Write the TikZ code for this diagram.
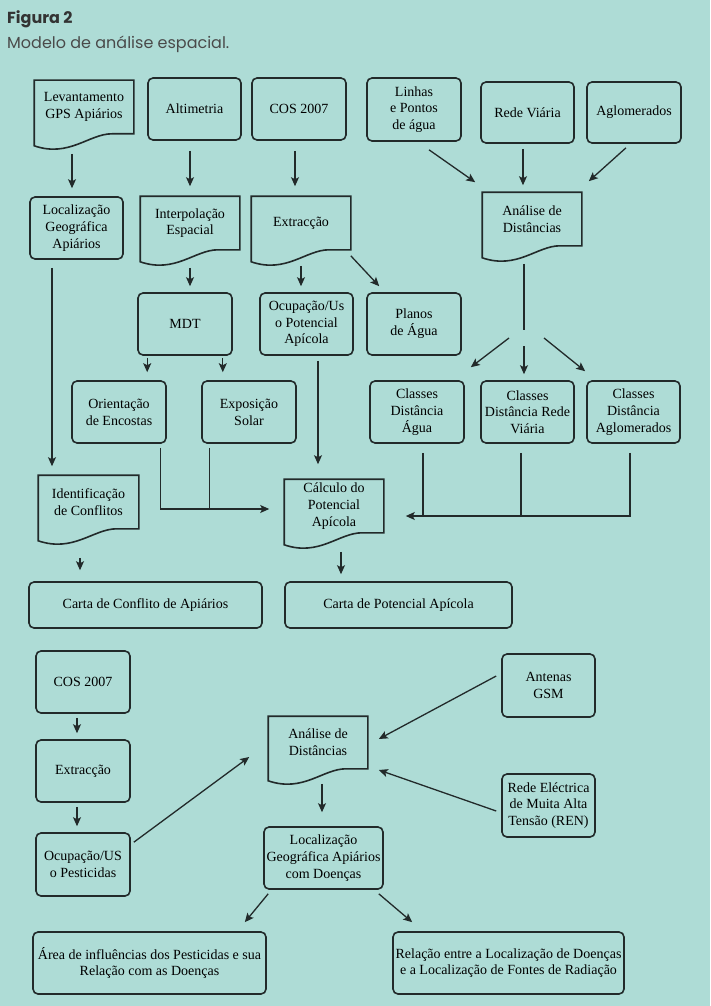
\documentclass[tikz,border=0pt]{standalone}
\usepackage{fontspec}
\setmainfont{Liberation Serif}
\newfontfamily\titlefont{Poppins}
\usetikzlibrary{calc,arrows.meta}
\definecolor{fundo}{HTML}{AEDCD6}
\definecolor{traco}{HTML}{222A2A}
\definecolor{titulo}{HTML}{333333}
\definecolor{subtitulo}{HTML}{4A4A4A}

\begin{document}
\begin{tikzpicture}[x=1pt,y=-1pt,
		caixa/.style={draw=traco,line width=1.6pt,rounded corners=5pt,align=center,inner sep=0pt,font=\fontsize{14}{16.7}\selectfont},
		docbox/.style={caixa,draw=none},
		seta/.style={draw=traco,line width=1.3pt,-{Stealth[length=9pt,width=8pt,inset=2pt]}},
		linha/.style={draw=traco,line width=1.3pt}]
		\fill [fundo] (0,0) rectangle (710,1006);
		\useasboundingbox (0,0) rectangle (710,1006);
		%
		\node [anchor=base west,inner sep=0pt,text=titulo,font=\titlefont\bfseries\fontsize{16}{18}\selectfont] (fig) at (7,24) {Figura 2};
		\node [anchor=base west,inner sep=0pt,text=subtitulo,font=\titlefont\fontsize{16}{18}\selectfont] (sub) at (7,49) {Modelo de análise espacial.};
		%
		\begin{scope}
			\node [docbox,minimum width=98pt,minimum height=52pt] (levgps) at (84,107) {Levantamento\\GPS Apiários};
			\node [caixa,minimum width=93pt,minimum height=62pt] (altim) at (194.5,109) {Altimetria};
			\node [caixa,minimum width=94pt,minimum height=62pt] (cos) at (299,109) {COS 2007};
			\node [caixa,minimum width=94pt,minimum height=63pt] (linhas) at (414,109.5) {Linhas\\e Pontos\\de água};
			\node [caixa,minimum width=93pt,minimum height=61pt] (rede) at (527.5,112.5) {Rede Viária};
			\node [caixa,minimum width=94pt,minimum height=61pt] (aglo) at (634,112.5) {Aglomerados};
			\node [docbox,minimum width=98pt,minimum height=52pt] (analise) at (532,219) {Análise de\\Distâncias};
			%
			\node [caixa,minimum width=93pt,minimum height=62pt] (locgeo) at (76.5,228) {Localização\\Geográfica\\Apiários};
			\node [docbox,minimum width=98pt,minimum height=52pt] (interp) at (190,223) {Interpolação\\Espacial};
			\node [docbox,minimum width=98pt,minimum height=52pt] (extr) at (301,223) {Extracção};
			\node [caixa,minimum width=94pt,minimum height=62pt] (mdt) at (185,324) {MDT};
			\node [caixa,minimum width=93pt,minimum height=62pt] (ocuppot) at (306.5,324) {Ocupação/Us\\o Potencial\\Apícola};
			\node [caixa,minimum width=94pt,minimum height=62pt] (planos) at (414,324) {Planos\\de Água};
			%
			\node [caixa,minimum width=94pt,minimum height=62pt] (orient) at (119,412) {Orientação\\de Encostas};
			\node [caixa,minimum width=94pt,minimum height=62pt] (expos) at (249,412) {Exposição\\Solar};
			\node [caixa,minimum width=94pt,minimum height=62pt] (cdagua) at (417,412) {Classes\\Distância\\Água};
			\node [caixa,minimum width=93pt,minimum height=62pt] (cdrede) at (527.5,412) {Classes\\Distância Rede\\Viária};
			\node [caixa,minimum width=93pt,minimum height=62pt] (cdaglo) at (633.5,412) {Classes\\Distância\\Aglomerados};
			%
			\node [docbox,minimum width=99pt,minimum height=52pt] (ident) at (88.5,502) {Identificação\\de Conflitos};
			\node [docbox,minimum width=98pt,minimum height=52pt] (calc) at (334,506) {Cálculo do\\Potencial\\Apícola};
			\node [caixa,minimum width=233pt,minimum height=46pt] (cartaconf) at (145.5,605) {Carta de Conflito de Apiários};
			\node [caixa,minimum width=227pt,minimum height=46pt] (cartapot) at (398.5,605) {Carta de Potencial Apícola};
		\end{scope}
		%
		\begin{scope}
			\node [caixa,minimum width=94pt,minimum height=62pt] (cos2) at (83,682) {COS 2007};
			\node [caixa,minimum width=94pt,minimum height=62pt] (extr2) at (83,771) {Extracção};
			\node [caixa,minimum width=94pt,minimum height=63pt] (ocuppest) at (83,864.5) {Ocupação/US\\o Pesticidas};
			\node [docbox,minimum width=98pt,minimum height=51pt] (analise2) at (318,742.5) {Análise de\\Distâncias};
			\node [caixa,minimum width=93pt,minimum height=63pt] (antenas) at (548.5,685.5) {Antenas\\GSM};
			\node [caixa,minimum width=93pt,minimum height=63pt] (ren) at (548.5,805.5) {Rede Eléctrica\\de Muita Alta\\Tensão (REN)};
			\node [caixa,minimum width=119pt,minimum height=62pt] (locdoen) at (323.5,858) {Localização\\Geográfica Apiários\\com Doenças};
			\node [caixa,minimum width=233pt,minimum height=62pt] (area) at (149.5,963) {Área de influências dos Pesticidas e sua\\Relação com as Doenças};
			\node [caixa,minimum width=231pt,minimum height=62pt] (relacao) at (508.5,963) {Relação entre a Localização de Doenças\\e a Localização de Fontes de Radiação};
		\end{scope}
		%
		\foreach \n in {levgps,analise,interp,extr,ident,calc,analise2}
			\draw [traco,line width=1.6pt] (\n.north west) -- (\n.north east) -- (\n.south east) -- ($(\n.south west)!0.78!(\n.south east)$) .. controls ($(\n.south west)!0.55!(\n.south east)$) and ($(\n.south west)!0.35!(\n.south east)+(0pt,-24pt)$) .. ([yshift=-12pt]\n.south west) -- cycle;
		%
		\coordinate (split) at (524,330);
		\draw [seta,shorten <=20pt,shorten >=8pt] ([xshift=-4.5pt]locgeo.north |- levgps.south) -- ([xshift=-4.5pt]locgeo.north);
		\draw [seta,shorten <=10pt,shorten >=10pt] (altim.south -| interp.north) -- (interp.north);
		\draw [seta,shorten <=10pt,shorten >=10pt] ([xshift=-4pt]cos.south) -- ([xshift=-4pt]cos.south |- extr.north);
		\draw [seta] ([shift={(15pt,-8pt)}]linhas.south) -- ([shift={(-7pt,10pt)}]analise.north west);
		\draw [seta,shorten >=7pt] ([shift={(-4.5pt,-5pt)}]rede.south) -- ([xshift=-4.5pt]rede.south |- analise.north);
		\draw [seta] ([shift={(-8pt,-4pt)}]aglo.south) -- ([shift={(7pt,11pt)}]analise.north east);
		\draw [linha,shorten <=18pt] (analise.south -| split) -- (split);
		\draw [seta] ([shift={(-15pt,-8pt)}]split) -- ([shift={(6pt,13pt)}]cdagua.north east);
		\draw [seta,shorten >=6pt] ([yshift=-16pt]split) -- (split |- cdrede.north);
		\draw [seta] ([shift={(20pt,-8pt)}]split) -- ([shift={(-1pt,9pt)}]cdaglo.north west);
		%
		\draw [seta,shorten <=18pt,shorten >=6pt] (interp.south) -- (interp.south |- mdt.north);
		\draw [seta,shorten <=16pt,shorten >=6pt] (extr.south) -- (extr.south |- ocuppot.north);
		\draw [seta] ([yshift=-6pt]extr.south east) -- ([shift={(13pt,6pt)}]planos.north west);
		\draw [seta,shorten >=8pt] ([shift={(10pt,-2pt)}]mdt.south west) -- ([xshift=10pt]mdt.south west |- orient.north);
		\draw [seta,shorten >=8pt] ([shift={(-10pt,-2pt)}]mdt.south east) -- ([xshift=-10pt]mdt.south east |- expos.north);
		\draw [seta,shorten >=15pt] ([shift={(11.5pt,-5pt)}]ocuppot.south) -- ([xshift=11.5pt]ocuppot.south |- calc.north);
		\draw [seta,shorten >=9pt] ([shift={(-24.5pt,-8pt)}]locgeo.south) -- ([xshift=-24.5pt]locgeo.south |- ident.north);
		\draw [seta,shorten >=15pt] ([shift={(-6pt,-4pt)}]orient.south east) |- ([yshift=-3pt]calc.west);
		\draw [linha] ([shift={(8pt,-4pt)}]expos.south west) -- ([xshift=8pt,yshift=-3pt]expos.south west |- calc.west);
		\draw [linha] ([shift={(6pt,-9pt)}]cdagua.south) -- ([xshift=6pt,yshift=-10pt]cdagua.south |- calc.east);
		\draw [linha] ([shift={(-6.5pt,-9pt)}]cdrede.south) -- ([xshift=-6.5pt,yshift=-10pt]cdrede.south |- calc.east);
		\draw [seta,shorten >=22pt] ([shift={(-3.5pt,-9pt)}]cdaglo.south) |- ([yshift=-10pt]calc.east);
		\draw [seta,shorten >=11pt] ([shift={(-8.5pt,-29pt)}]ident.south) -- ([xshift=-8.5pt]ident.south |- cartaconf.north);
		\draw [seta,shorten >=7pt] ([shift={(7pt,-19pt)}]calc.south) -- ([xshift=7pt]calc.south |- cartapot.north);
		%
		\draw [seta,shorten >=6pt] ([shift={(-6pt,-4pt)}]cos2.south) -- ([xshift=-6pt]cos2.south |- extr2.north);
		\draw [seta,shorten >=6pt] ([shift={(-6pt,-4pt)}]extr2.south) -- ([xshift=-6pt]extr2.south |- ocuppest.north);
		\draw [seta] ([shift={(3pt,-10pt)}]ocuppest.north east) -- ([shift={(-19pt,-14.5pt)}]analise2.west);
		\draw [seta] ([shift={(-5pt,9.5pt)}]antenas.west) -- ([shift={(11pt,3.5pt)}]analise2.east);
		\draw [seta] ([shift={(-5pt,-5.5pt)}]ren.west) -- ([shift={(11pt,-27.5pt)}]analise2.east);
		\draw [seta,shorten >=14pt] ([shift={(4pt,-15pt)}]analise2.south) -- ([xshift=4pt]analise2.south |- locdoen.north);
		\draw [seta] ([shift={(5pt,-4pt)}]locdoen.south west) -- ([shift={(-22pt,9pt)}]area.north east);
		\draw [seta] ([shift={(-5pt,-4pt)}]locdoen.south east) -- ([shift={(20pt,9pt)}]relacao.north west);
	\end{tikzpicture}
\end{document}
